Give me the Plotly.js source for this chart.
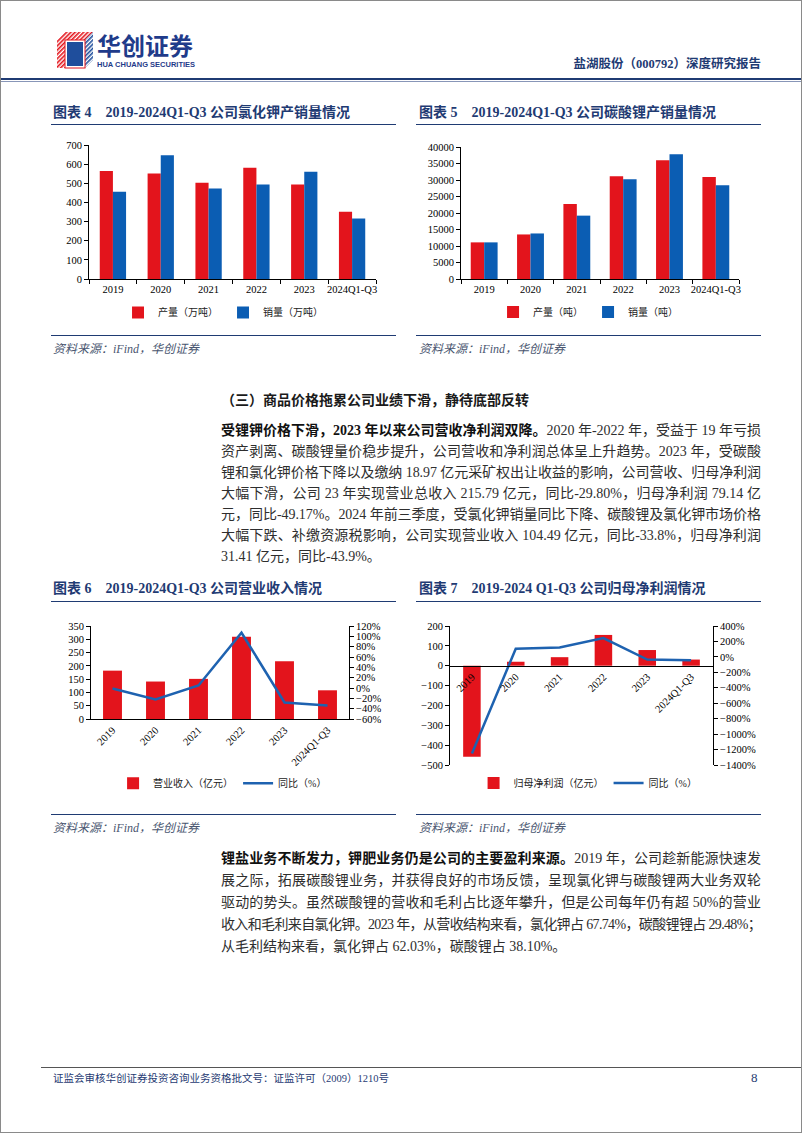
<!DOCTYPE html>
<html lang="zh-CN">
<head>
<meta charset="utf-8">
<script src="https://cdn.plot.ly/plotly-3.0.1.min.js"></script>
<style>
html,body{margin:0;padding:0;background:#fff;}
#page{position:relative;width:802px;height:1133px;box-sizing:border-box;border:1px solid #8a8a8a;overflow:hidden;font-family:"Liberation Serif","Noto Sans CJK SC",serif;}
.abs{position:absolute;}
.ctitle{position:absolute;font-weight:bold;font-size:14px;color:#1F3B73;white-space:nowrap;line-height:16px;}
.hline{position:absolute;height:0;border-top:1.5px solid #1F3B73;}
.src{position:absolute;font-style:italic;font-size:12px;color:#4a5670;white-space:nowrap;line-height:16px;}
.ln{position:absolute;left:220px;width:540px;font-size:14px;line-height:20px;color:#2e2e2e;text-align:justify;text-align-last:justify;white-space:nowrap;}
.ln.last{text-align-last:left;}
.ln b{color:#111;}
.chart{position:absolute;}
</style>
</head>
<body>
<div id="page">
  <!-- logo -->
  <svg class="abs" style="left:54px;top:29px" width="40" height="40" viewBox="0 0 40 40">
    <defs>
      <pattern id="rs" width="3" height="3" patternUnits="userSpaceOnUse" patternTransform="rotate(45)">
        <rect width="1.6" height="3" fill="#E3141C"/>
      </pattern>
      <pattern id="bs" width="3" height="3" patternUnits="userSpaceOnUse" patternTransform="rotate(45)">
        <rect width="1.6" height="3" fill="#1F4E9C"/>
      </pattern>
    </defs>
    <polygon points="10,2 38,2 30,10 2,10" fill="url(#rs)"/>
    <polygon points="2,10 10,10 10,38 2,38" fill="url(#rs)"/>
    <polygon points="30,10 38,2 38,30 30,38" fill="url(#bs)"/>
    <rect x="12" y="12" width="16" height="24" fill="#1F4E9C"/>
    <rect x="10" y="10" width="20" height="28" fill="none" stroke="#E3141C" stroke-width="1"/>
  </svg>
  <div class="abs" style="left:96px;top:32px;font-family:'Noto Sans CJK SC';font-weight:bold;font-size:24px;line-height:24px;color:#1F3B8A;">华创证券</div>
  <div class="abs" style="left:96px;top:60px;font-family:'Liberation Sans';font-weight:bold;font-size:7.5px;line-height:8px;color:#1F3B8A;white-space:nowrap;">HUA CHUANG SECURITIES</div>
  <div class="abs" style="left:560px;width:200px;top:55px;text-align:right;font-weight:bold;font-size:12.5px;line-height:16px;color:#1F3B73;white-space:nowrap;">盐湖股份（000792）深度研究报告</div>
  <div class="abs" style="left:0;width:802px;top:77px;height:2px;background:#1F3B73;"></div>
  <div class="abs" style="left:0;width:802px;top:80px;height:1px;background:#8896b8;"></div>

  <!-- chart titles row 1 -->
  <div class="ctitle" style="left:52px;top:104px;">图表 4&nbsp;&nbsp;&nbsp;&nbsp;2019-2024Q1-Q3 公司氯化钾产销量情况</div>
  <div class="hline" style="left:50px;width:345px;top:123px;"></div>
  <div class="ctitle" style="left:418px;top:104px;">图表 5&nbsp;&nbsp;&nbsp;&nbsp;2019-2024Q1-Q3 公司碳酸锂产销量情况</div>
  <div class="hline" style="left:415px;width:345px;top:123px;"></div>

  <div id="c1" class="chart" style="left:40px;top:130px;width:360px;height:200px;"></div>
  <div id="c2" class="chart" style="left:410px;top:130px;width:360px;height:200px;"></div>

  <div class="hline" style="left:50px;width:345px;top:334px;"></div>
  <div class="hline" style="left:415px;width:345px;top:334px;"></div>
  <div class="src" style="left:52px;top:340px;">资料来源：iFind，华创证券</div>
  <div class="src" style="left:418px;top:340px;">资料来源：iFind，华创证券</div>

  <div class="abs" style="left:220px;top:390px;font-weight:bold;font-size:14px;line-height:20px;color:#1a1a1a;white-space:nowrap;">（三）商品价格拖累公司业绩下滑，静待底部反转</div>

  <div class="ln" style="top:420px;"><b>受锂钾价格下滑，2023 年以来公司营收净利润双降。</b>2020 年-2022 年，受益于 19 年亏损</div>
  <div class="ln" style="top:441px;">资产剥离、碳酸锂量价稳步提升，公司营收和净利润总体呈上升趋势。2023 年，受碳酸</div>
  <div class="ln" style="top:462px;">锂和氯化钾价格下降以及缴纳 18.97 亿元采矿权出让收益的影响，公司营收、归母净利润</div>
  <div class="ln" style="top:483px;">大幅下滑，公司 23 年实现营业总收入 215.79 亿元，同比-29.80%，归母净利润 79.14 亿</div>
  <div class="ln" style="top:504px;">元，同比-49.17%。2024 年前三季度，受氯化钾销量同比下降、碳酸锂及氯化钾市场价格</div>
  <div class="ln" style="top:525px;">大幅下跌、补缴资源税影响，公司实现营业收入 104.49 亿元，同比-33.8%，归母净利润</div>
  <div class="ln last" style="top:546px;">31.41 亿元，同比-43.9%。</div>

  <!-- chart titles row 2 -->
  <div class="ctitle" style="left:52px;top:580px;">图表 6&nbsp;&nbsp;&nbsp;&nbsp;2019-2024Q1-Q3 公司营业收入情况</div>
  <div class="hline" style="left:50px;width:345px;top:600px;"></div>
  <div class="ctitle" style="left:418px;top:580px;">图表 7&nbsp;&nbsp;&nbsp;&nbsp;2019-2024 Q1-Q3 公司归母净利润情况</div>
  <div class="hline" style="left:415px;width:345px;top:600px;"></div>

  <div id="c3" class="chart" style="left:40px;top:610px;width:360px;height:190px;"></div>
  <div id="c4" class="chart" style="left:410px;top:610px;width:360px;height:190px;"></div>

  <div class="hline" style="left:50px;width:345px;top:813px;"></div>
  <div class="hline" style="left:415px;width:345px;top:813px;"></div>
  <div class="src" style="left:52px;top:819px;">资料来源：iFind，华创证券</div>
  <div class="src" style="left:418px;top:819px;">资料来源：iFind，华创证券</div>

  <div class="ln" style="top:848px;"><b>锂盐业务不断发力，钾肥业务仍是公司的主要盈利来源。</b>2019 年，公司趁新能源快速发</div>
  <div class="ln" style="top:870px;">展之际，拓展碳酸锂业务，并获得良好的市场反馈，呈现氯化钾与碳酸锂两大业务双轮</div>
  <div class="ln" style="top:892px;">驱动的势头。虽然碳酸锂的营收和毛利占比逐年攀升，但是公司每年仍有超 50%的营业</div>
  <div class="ln" style="top:914px;">收入和毛利来自氯化钾。2023 年，从营收结构来看，氯化钾占 67.74%，碳酸锂锂占 29.48%；</div>
  <div class="ln last" style="top:936px;">从毛利结构来看，氯化钾占 62.03%，碳酸锂占 38.10%。</div>

  <div class="abs" style="left:40px;width:762px;top:1066px;height:1px;background:#555;"></div>
  <div class="abs" style="left:52px;top:1071px;font-size:10.5px;line-height:14px;color:#1F3B73;white-space:nowrap;">证监会审核华创证券投资咨询业务资格批文号：证监许可（2009）1210号</div>
  <div class="abs" style="left:750px;top:1069px;font-size:13px;line-height:16px;color:#1F3B73;">8</div>
</div>

<script>
// ---- data ----
const years = ['2019', '2020', '2021', '2022', '2023', '2024Q1-Q3'];
const kclProduction = [564, 551, 503, 581, 494, 351];      // 万吨
const kclSales = [456, 647, 473, 494, 560, 316];           // 万吨
const li2co3Production = [11100, 13500, 22700, 31100, 36000, 30900]; // 吨
const li2co3Sales = [11100, 13800, 19200, 30200, 37800, 28400];      // 吨
const revenue = [182, 141, 151, 310, 217, 108];            // 亿元
const revenueYoY = [-1, -22, 5, 107, -28, -34];            // %
const netProfit = [-458, 20, 43, 155, 79, 31];             // 亿元
const netProfitYoY = [-1250, 106, 123, 243, -35, -43];     // %

const RED = '#E3141C', BLUE = '#0B5DB3', LINE = '#1E62B0';
const tickFont = {family: 'Liberation Serif', size: 10.5, color: '#000'};
const legFont = {family: 'Liberation Serif, Noto Sans CJK SC', size: 10, color: '#222'};
const cfg = {staticPlot: true, displayModeBar: false};

function xax(extra) {
  return Object.assign({type: 'category', showline: true, linecolor: '#000', linewidth: 1,
    ticks: 'outside', tickson: 'boundaries', ticklen: 4, tickcolor: '#000', tickangle: 0,
    tickfont: tickFont, showgrid: false, zeroline: false, fixedrange: true}, extra || {});
}
function yax(extra) {
  return Object.assign({showline: true, linecolor: '#000', linewidth: 1, ticks: 'outside',
    ticklen: 4, tickcolor: '#000', tickfont: tickFont, showgrid: false, zeroline: false,
    tickformat: 'd', fixedrange: true}, extra || {});
}
function base(w, h, m, legend) {
  return {width: w, height: h, margin: Object.assign({autoexpand: false}, m),
    paper_bgcolor: 'rgba(0,0,0,0)', plot_bgcolor: 'rgba(0,0,0,0)',
    showlegend: true, legend: Object.assign({orientation: 'h', xanchor: 'center', yanchor: 'middle',
      font: legFont, itemwidth: 30, bgcolor: 'rgba(0,0,0,0)', traceorder: 'normal'}, legend)};
}

// 图表4
Plotly.newPlot('c1', [
  {type: 'bar', x: years, y: kclProduction, name: '产量（万吨）', marker: {color: RED}},
  {type: 'bar', x: years, y: kclSales, name: '销量（万吨）', marker: {color: BLUE}}
], Object.assign(base(360, 200, {l: 48, r: 25, t: 14, b: 52}, {x: 0.467, y: -0.25}), {
  barmode: 'group', bargap: 0.45, bargroupgap: 0,
  xaxis: xax(), yaxis: yax({range: [0, 700], dtick: 100})
}), cfg);

// 图表5
Plotly.newPlot('c2', [
  {type: 'bar', x: years, y: li2co3Production, name: '产量（吨）', marker: {color: RED}},
  {type: 'bar', x: years, y: li2co3Sales, name: '销量（吨）', marker: {color: BLUE}}
], Object.assign(base(360, 200, {l: 50, r: 32, t: 16, b: 52}, {x: 0.457, y: -0.25}), {
  barmode: 'group', bargap: 0.42, bargroupgap: 0,
  xaxis: xax(), yaxis: yax({range: [0, 40000], dtick: 5000})
}), cfg);

// 图表6
Plotly.newPlot('c3', [
  {type: 'bar', x: years, y: revenue, name: '营业收入（亿元）', marker: {color: RED}},
  {type: 'scatter', mode: 'lines', x: years, y: revenueYoY, yaxis: 'y2', name: '同比（%）',
   line: {color: LINE, width: 2.5}}
], Object.assign(base(360, 190, {l: 50, r: 52, t: 15, b: 82}, {x: 0.51, y: -0.69}), {
  bargap: 0.56,
  xaxis: xax({tickangle: -45, ticks: ''}),
  yaxis: yax({range: [0, 350], dtick: 50}),
  yaxis2: yax({range: [-60, 120], dtick: 20, ticksuffix: '%', overlaying: 'y', side: 'right'})
}), cfg);

// 图表7
const npMin = -500, npMax = 200;
Plotly.newPlot('c4', [
  {type: 'bar', x: years, y: netProfit, name: '归母净利润（亿元）', marker: {color: RED}},
  {type: 'scatter', mode: 'lines', x: years, y: netProfitYoY, yaxis: 'y2', name: '同比（%）',
   line: {color: LINE, width: 2.5}}
], Object.assign(base(360, 190, {l: 39, r: 58, t: 15, b: 36}, {x: 0.525, y: -0.13}), {
  bargap: 0.6,
  xaxis: xax({tickangle: -45, ticks: '', anchor: 'free', position: (0 - npMin) / (npMax - npMin)}),
  yaxis: yax({range: [npMin, npMax], dtick: 100}),
  yaxis2: yax({range: [-1400, 400], dtick: 200, ticksuffix: '%', overlaying: 'y', side: 'right'})
}), cfg);

// fit text lines to width
document.querySelectorAll('.ln').forEach(function (el) {
  const s = document.createElement('span');
  s.innerHTML = el.innerHTML;
  s.style.cssText = 'position:absolute;visibility:hidden;white-space:nowrap;font-size:14px;font-family:inherit;';
  el.parentNode.appendChild(s);
  const w = s.getBoundingClientRect().width;
  const n = s.textContent.length;
  s.remove();
  if (w > 539) el.style.letterSpacing = (-(w - 539) / n) + 'px';
});
</script>
</body>
</html>
